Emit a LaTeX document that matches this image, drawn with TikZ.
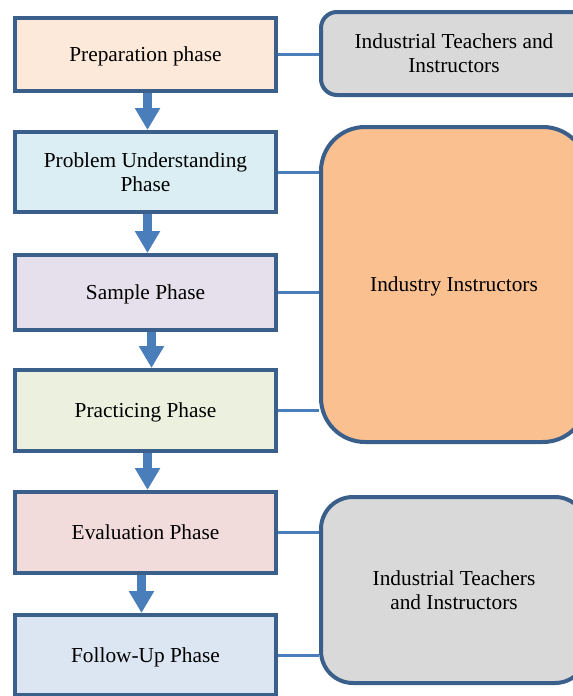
\documentclass[tikz,border=0pt]{standalone}
\usepackage{fontspec}
\setmainfont{Liberation Serif}
\usetikzlibrary{arrows.meta}
\definecolor{edgeblue}{HTML}{3A5F8B}
\definecolor{linkblue}{HTML}{4A7EBB}
\definecolor{prepfill}{HTML}{FDE9D9}
\definecolor{undfill}{HTML}{DBEEF4}
\definecolor{smpfill}{HTML}{E5E0EC}
\definecolor{prcfill}{HTML}{EBF1DE}
\definecolor{evlfill}{HTML}{F2DCDB}
\definecolor{fupfill}{HTML}{DCE6F2}
\definecolor{grayfill}{HTML}{D9D9D9}
\definecolor{orangefill}{HTML}{FAC090}
\tikzset{
	phase/.style={draw=edgeblue,line width=3pt,outer sep=0pt,align=center,
		minimum width=195.75pt,text depth=0pt},
	actor/.style={draw=edgeblue,line width=3pt,outer sep=0pt,align=center,
		minimum width=199.5pt,text depth=0pt,rounded corners=#1},
	flow/.style={draw=linkblue,line width=6.75pt,shorten <=1.5pt,shorten >=1.5pt,
		-{Triangle[width=18pt,length=16.5pt]}},
	link/.style={draw=linkblue,line width=2.25pt,shorten <=1.5pt,shorten >=1.5pt}
}
\begin{document}
\begin{tikzpicture}[x=0.75pt,y=-0.75pt]
		\fontsize{16}{18}\selectfont
		\useasboundingbox (0,0) rectangle (573,696);

		% phases
		\node[phase,fill=prepfill,minimum height=54.75pt] (prep) at (145.5,54.5) {Preparation phase};
		\node[phase,fill=undfill,minimum height=60pt] (und) at (145.5,172) {Problem Understanding\\Phase};
		\node[phase,fill=smpfill,minimum height=56.25pt] (smp) at (145.5,292.5) {Sample Phase};
		\node[phase,fill=prcfill,minimum height=60.75pt] (prc) at (145.5,410.5) {Practicing Phase};
		\node[phase,fill=evlfill,minimum height=60.75pt] (evl) at (145.5,532.5) {Evaluation Phase};
		\node[phase,fill=fupfill,minimum height=60pt] (fup) at (145.5,655) {Follow-Up Phase};

		\draw[flow] ([xshift=1.5]prep.south) -- ([xshift=1.5]und.north);
		\draw[flow] ([xshift=1.5]und.south) -- ([xshift=1.5]smp.north);
		\draw[flow] ([xshift=4.5]smp.south) -- ([xshift=4.5]prc.north);
		\draw[flow] ([xshift=1.5]prc.south) -- ([xshift=1.5]evl.north);
		\draw[flow] ([xshift=-3]evl.south) -- ([xshift=-3]fup.north);

		% people in charge
		\node[actor=12pt,fill=grayfill,minimum height=62.25pt] (tch) at (454,53.5) {Industrial Teachers and\\Instructors};
		\node[actor=33pt,fill=orangefill,minimum height=236.25pt] (ind) at (454,284.5) {Industry Instructors};
		\node[actor=24pt,fill=grayfill,minimum height=139.5pt] (fin) at (454,590) {Industrial Teachers\\and Instructors};

		\draw[link] (prep.east) -- (prep.east -| tch.west);
		\draw[link] (und.east) -- (und.east -| ind.west);
		\draw[link] (smp.east) -- (smp.east -| ind.west);
		\draw[link] (prc.east) -- (prc.east -| ind.west);
		\draw[link] (evl.east) -- (evl.east -| fin.west);
		\draw[link] (fup.east) -- (fup.east -| fin.west);
	\end{tikzpicture}
\end{document}
